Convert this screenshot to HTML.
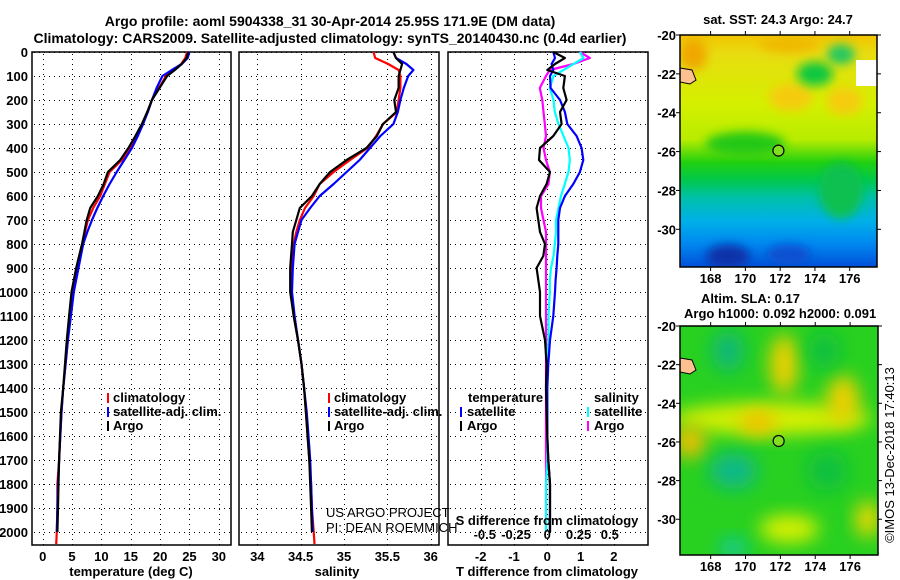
<!DOCTYPE html>
<html><head><meta charset="utf-8">
<style>
html,body{margin:0;padding:0;background:#fff;}
svg{display:block;font-family:"Liberation Sans",sans-serif;}
.b{font-weight:bold;font-size:13px;fill:#000;}
.t{font-weight:bold;font-size:14px;fill:#000;}
</style></head>
<body>
<svg id="fig" width="900" height="580" viewBox="0 0 900 580">
<defs>
<filter id="blur" x="-50%" y="-50%" width="200%" height="200%"><feGaussianBlur stdDeviation="9"/></filter>
<filter id="blur2" x="-50%" y="-50%" width="200%" height="200%"><feGaussianBlur stdDeviation="5"/></filter>
<linearGradient id="sstg" x1="0" y1="0" x2="0" y2="1">
<stop offset="0" stop-color="#f2c400"/>
<stop offset="0.08" stop-color="#e8dc10"/>
<stop offset="0.3" stop-color="#d4f000"/>
<stop offset="0.45" stop-color="#b8ec00"/>
<stop offset="0.55" stop-color="#20d010"/>
<stop offset="0.63" stop-color="#00c850"/>
<stop offset="0.7" stop-color="#00c0a8"/>
<stop offset="0.8" stop-color="#00b0e8"/>
<stop offset="0.9" stop-color="#0088f0"/>
<stop offset="1" stop-color="#0050d8"/>
</linearGradient>
<clipPath id="clipTop"><rect x="680" y="35" width="197" height="232"/></clipPath>
<clipPath id="clipBot"><rect x="680" y="326" width="198" height="229"/></clipPath>
</defs>
<text class="t" x="330" y="26" text-anchor="middle">Argo profile: aoml 5904338_31 30-Apr-2014 25.95S 171.9E (DM data)</text>
<text class="t" x="330" y="43" text-anchor="middle">Climatology: CARS2009. Satellite-adjusted climatology: synTS_20140430.nc (0.4d earlier)</text>
<g id="plots"></g>
<g id="maps"></g>
</svg>
<script>
// ---- shared depth axis data ----
const depths = [0,25,50,75,100,150,200,250,300,350,400,450,500,550,600,650,700,750,800,900,1000,1100,1200,1300,1400,1500,1600,1700,1800,1900,2000,2050];
const depthTicks = [0,100,200,300,400,500,600,700,800,900,1000,1100,1200,1300,1400,1500,1600,1700,1800,1900,2000];
// temperature (deg C)
const tempClim = [24.6,24.3,23.6,22.4,21.0,19.8,18.6,17.9,17.0,15.9,14.8,13.5,11.4,10.6,9.8,8.6,7.7,7.2,6.8,5.9,5.1,4.6,4.3,3.9,3.5,3.2,3.0,2.8,2.5,2.5,2.4,2.3];
const tempSat = [25.0,24.7,23.7,22.0,20.4,19.4,18.6,17.9,17.1,16.2,15.2,13.9,12.6,11.4,10.3,9.3,8.4,7.6,6.9,6.1,5.3,4.8,4.3,3.9,3.5,3.2,3.0,2.8,2.6,2.5,2.4,null];
const tempArgo = [24.8,24.5,23.7,22.5,21.2,19.9,18.6,17.8,16.9,15.8,14.6,13.2,11.1,10.4,9.4,8.1,7.5,7.1,6.7,5.7,4.9,4.5,4.1,3.8,3.5,3.1,2.95,2.8,2.7,2.6,2.5,null];
const tempTicks = [0,5,10,15,20,25,30];
// salinity
const salClim = [35.34,35.36,35.51,35.63,35.65,35.65,35.63,35.61,35.45,35.37,35.27,35.07,34.88,34.72,34.65,34.55,34.49,34.45,34.42,34.40,34.39,34.42,34.47,34.51,34.54,34.56,34.58,34.60,34.62,34.63,34.65,34.66];
const salSat = [35.57,35.60,35.72,35.80,35.74,35.69,35.65,35.62,35.57,35.42,35.30,35.18,35.03,34.88,34.72,34.61,34.51,34.47,34.43,34.41,34.40,34.43,34.47,34.51,34.54,34.57,34.59,34.61,34.62,34.63,34.64,null];
const salArgo = [35.57,35.60,35.67,35.65,35.63,35.63,35.58,35.60,35.45,35.38,35.26,35.03,34.84,34.72,34.63,34.49,34.45,34.41,34.40,34.38,34.38,34.42,34.47,34.51,34.54,34.56,34.58,34.60,34.61,34.62,34.63,null];
const salTicks = [34,34.5,35,35.5,36];
// differences from climatology
const diffDepths = [0,25,50,75,100,150,200,250,300,350,400,450,500,550,600,650,700,750,800,850,900,950,1000,1100,1200,1300,1400,1500,1600,1700,1800,1900,2000];
const tDiffArgo = [0.18,0.53,0.23,0.0,0.53,0.48,0.58,0.38,0.43,0.18,-0.22,-0.25,0.08,-0.02,-0.22,-0.32,-0.27,-0.22,-0.07,-0.12,-0.32,-0.27,-0.22,-0.22,-0.07,-0.02,-0.04,-0.02,0,0.03,0.08,0.08,0.08];
const tDiffSat = [0.18,0.23,0.13,0.18,0.08,0.1,0.38,0.53,0.6,0.88,1.03,1.08,0.98,0.78,0.53,0.38,0.33,0.33,0.33,0.3,0.28,0.25,0.23,0.18,0.08,0.03,0,0,0,0.03,0.08,0.08,0.08];
const sDiffSat = [0.26,0.29,0.21,0.13,0.05,0.02,0.05,0.06,0.09,0.13,0.17,0.18,0.17,0.14,0.11,0.09,0.07,0.07,0.06,0.05,0.03,0.02,0.02,0.01,0.01,0,0,0,0,0,-0.01,-0.01,-0.01];
const sDiffArgo = [0.26,0.34,0.21,0.02,-0.01,-0.06,-0.04,-0.03,-0.02,-0.01,-0.03,-0.01,0.02,0.01,-0.05,-0.05,-0.03,-0.01,-0.01,-0.01,-0.01,-0.01,-0.01,-0.01,-0.01,-0.01,-0.01,-0.01,-0.01,-0.01,-0.01,-0.01,-0.01];
const tDiffTicks = [-2,-1,0,1,2];
const sDiffTicks = [-0.5,-0.25,0,0.25,0.5];
const sDiffTickLabels = ["-0.5","-0.25","0","0.25","0.5"];
// maps
const lonTicks = [168,170,172,174,176];
const latTicks = [-20,-22,-24,-26,-28,-30];
const floatLon = 171.9, floatLat = -25.95;

const NS = "http://www.w3.org/2000/svg";
function mk(tag, attrs, parent){const e=document.createElementNS(NS,tag);for(const k in attrs)e.setAttribute(k,attrs[k]);parent.appendChild(e);return e;}
const plots = document.getElementById('plots');
const maps = document.getElementById('maps');

const yTop=52, yBot=545;
const yD = d => yTop + 0.24*d;
const snap = v => Math.round(v) + 0.5;

function panel(name, x0, x1, xScale, xTicks){
  const g = mk('g',{},plots);
  
  
  depthTicks.forEach(d=>{
    const y = snap(yD(d));
    const l = mk('line',{x1:x0+2,x2:x1,y1:y,y2:y,stroke:'#000','stroke-width':1,'stroke-dasharray':'1,4','shape-rendering':'crispEdges'},g);
    
    
  });
  xTicks.forEach(v=>{
    const x = snap(xScale(v));
    const l = mk('line',{x1:x,x2:x,y1:yTop+2,y2:yBot,stroke:'#000','stroke-width':1,'stroke-dasharray':'1,4','shape-rendering':'crispEdges'},g);
    
    
  });
  const r = mk('rect',{x:x0,y:yTop,width:x1-x0,height:yBot-yTop,fill:'none',stroke:'#000','stroke-width':1.5},g);
  
  
  return g;
}
function series(g, name, ds, vals, xScale, color){
  let pts=[];
  vals.forEach((v,i)=>{ if(v!==null) pts.push(xScale(v).toFixed(1)+','+yD(ds[i]).toFixed(1)); });
  const p = mk('polyline',{points:pts.join(' '),fill:'none',stroke:color,'stroke-width':2.2,'stroke-linejoin':'round'},g);
  
  
}
function txt(g, s, x, y, cls, anchor, name, extra){
  const t = mk('text',Object.assign({x:x,y:y,'class':cls,'text-anchor':anchor||'start'},extra||{}),g);
  t.textContent = s;
  
  
  return t;
}
function legendMark(g, x, y, color, name){
  const l = mk('line',{x1:x,x2:x,y1:y-10,y2:y,stroke:color,'stroke-width':2},g);
  
  
}

depthTicks.forEach(d=>{ txt(plots, String(d), 28, yD(d)+5, 'b', 'end', 'y-tick-label'); });

// ---- Temperature panel ----
const xT = v => 42.7 + 5.87*v;
const g1 = panel('temperature-panel', 32, 231, xT, tempTicks);
series(g1,'temp-climatology-line',depths,tempClim,xT,'#ff0000');
series(g1,'temp-satellite-line',depths,tempSat,xT,'#0000ff');
series(g1,'temp-argo-line',depths,tempArgo,xT,'#000000');
tempTicks.forEach(v=> txt(g1,String(v),xT(v),561,'b','middle','x-tick-label'));
txt(g1,'temperature (deg C)',131,576,'b','middle','x-axis-title-temperature');
legendMark(g1,108,403,'#ff0000','legend-mark-climatology');
txt(g1,'climatology',113,402,'b','start','legend-climatology');
legendMark(g1,108,417,'#0000ff','legend-mark-satellite');
txt(g1,'satellite-adj. clim.',113,416,'b','start','legend-satellite');
legendMark(g1,108,431,'#000000','legend-mark-argo');
txt(g1,'Argo',113,430,'b','start','legend-argo');

// ---- Salinity panel ----
const xS = v => 257.3 + 86.7*(v-34);
const g2 = panel('salinity-panel', 239, 439, xS, salTicks);
series(g2,'sal-climatology-line',depths,salClim,xS,'#ff0000');
series(g2,'sal-satellite-line',depths,salSat,xS,'#0000ff');
series(g2,'sal-argo-line',depths,salArgo,xS,'#000000');
salTicks.forEach(v=> txt(g2,String(v),xS(v),561,'b','middle','x-tick-label'));
txt(g2,'salinity',337,576,'b','middle','x-axis-title-salinity');
legendMark(g2,329,403,'#ff0000','legend-mark-climatology');
txt(g2,'climatology',334,402,'b','start','legend-climatology');
legendMark(g2,329,417,'#0000ff','legend-mark-satellite');
txt(g2,'satellite-adj. clim.',334,416,'b','start','legend-satellite');
legendMark(g2,329,431,'#000000','legend-mark-argo');
txt(g2,'Argo',334,430,'b','start','legend-argo');
txt(g2,'US ARGO PROJECT',326,517,'','start','credit-project',{'font-size':'13','fill':'#000'});
txt(g2,'PI: DEAN ROEMMICH',326,532,'','start','credit-pi',{'font-size':'13','fill':'#000'});

// ---- Difference panel ----
const xTD = v => 547.3 + 33.3*v;
const xSD = v => 547.3 + 125*v;
const g3 = panel('difference-panel', 448, 648, xTD, tDiffTicks);
series(g3,'sdiff-argo-line',diffDepths,sDiffArgo,xSD,'#ff00ff');
series(g3,'sdiff-satellite-line',diffDepths,sDiffSat,xSD,'#00ffff');
series(g3,'tdiff-satellite-line',diffDepths,tDiffSat,xTD,'#0000ff');
series(g3,'tdiff-argo-line',diffDepths,tDiffArgo,xTD,'#000000');
tDiffTicks.forEach(v=> txt(g3,String(v),xTD(v),561,'b','middle','t-diff-tick-label'));
sDiffTicks.forEach((v,i)=> txt(g3,sDiffTickLabels[i],xSD(v),539,'b','middle','s-diff-tick-label'));
txt(g3,'S difference from climatology',547,525,'b','middle','s-diff-axis-title');
txt(g3,'T difference from climatology',547,576,'b','middle','t-diff-axis-title');
txt(g3,'temperature',468,402,'b','start','legend-temperature-header');
legendMark(g3,461,417,'#0000ff','legend-mark-tsat');
txt(g3,'satellite',467,416,'b','start','legend-t-satellite');
legendMark(g3,461,431,'#000000','legend-mark-targo');
txt(g3,'Argo',467,430,'b','start','legend-t-argo');
txt(g3,'salinity',594,402,'b','start','legend-salinity-header');
legendMark(g3,588,417,'#00ffff','legend-mark-ssat');
txt(g3,'satellite',594,416,'b','start','legend-s-satellite');
legendMark(g3,588,431,'#ff00ff','legend-mark-sargo');
txt(g3,'Argo',594,430,'b','start','legend-s-argo');

// ---- Maps ----
function mapAxes(name, x0, x1, y0, y1, lonL, lonR, latT, latB){
  const lx = v => x0 + (v-lonL)/(lonR-lonL)*(x1-x0);
  const ly = v => y0 + (latT-v)/(latT-latB)*(y1-y0);
  return {lx, ly};
}
const mT = mapAxes('sst',680,877,35,267,166.24,177.57,-20,-31.94);
const gT = mk('g',{'clip-path':'url(#clipTop)'},maps);


mk('rect',{x:680,y:35,width:197,height:232,fill:'url(#sstg)'},gT);
const sstBlobs = [
 [mT.lx(172.6),mT.ly(-23.2),22,14,'#f5cc10'],[mT.lx(175.7),mT.ly(-23.4),18,14,'#f5cc10'],
 [mT.lx(174),mT.ly(-22),18,12,'#10c840'],[mT.lx(175.5),mT.ly(-21),14,10,'#20c860'],
 [mT.lx(172.5),mT.ly(-20.5),30,8,'#f0b800'],[mT.lx(167),mT.ly(-21),14,16,'#f0a800'],
 [mT.lx(169),mT.ly(-31.4),22,12,'#0830a8'],[mT.lx(172.5),mT.ly(-31.3),22,10,'#1050d0'],
 [mT.lx(175.5),mT.ly(-28),22,28,'#10c050'],[mT.lx(170),mT.ly(-25.6),40,12,'#20c818']];
sstBlobs.forEach(b=>{ mk('ellipse',{cx:b[0],cy:b[1],rx:b[2],ry:b[3],fill:b[4],filter:'url(#blur2)'},gT); });
mk('rect',{x:856,y:60,width:22,height:26,fill:'#fff'},gT);
mk('path',{d:'M680,68 L692,70 L696,80 L690,84 L680,82 Z',fill:'#ffc090',stroke:'#000','stroke-width':1},gT);
mk('rect',{x:680,y:35,width:197,height:232,fill:'none',stroke:'#000','stroke-width':1.5},maps);

const mB = mapAxes('sla',680,878,326,555,166.24,177.6,-20,-31.85);
const gB = mk('g',{'clip-path':'url(#clipBot)'},maps);


mk('rect',{x:680,y:326,width:198,height:229,fill:'#28d020'},gB);
const slaBlobs = [
 [mB.lx(171.5),mB.ly(-24.8),100,16,'#d8f000'],[mB.lx(172.2),mB.ly(-22),14,30,'#f0d000'],
 [mB.lx(170.7),mB.ly(-25),18,12,'#f0c000'],[mB.lx(166.8),mB.ly(-26),16,16,'#f0c000'],
 [mB.lx(175.6),mB.ly(-23.8),16,24,'#f0d000'],[mB.lx(172.5),mB.ly(-30.5),30,14,'#d8f000'],
 [mB.lx(177),mB.ly(-30),12,18,'#f0d800'],[mB.lx(169),mB.ly(-21.3),16,20,'#10b878'],
 [mB.lx(169.3),mB.ly(-27.5),24,18,'#10b888'],[mB.lx(169.3),mB.ly(-31.5),14,10,'#10c8a0'],
 [mB.lx(174.7),mB.ly(-27.5),20,20,'#10c040'],[mB.lx(174.5),mB.ly(-21.3),16,18,'#10c040']];
slaBlobs.forEach(b=>{ mk('ellipse',{cx:b[0],cy:b[1],rx:b[2],ry:b[3],fill:b[4],filter:'url(#blur)'},gB); });
mk('path',{d:'M680,358 L692,360 L696,370 L690,374 L680,372 Z',fill:'#ffc090',stroke:'#000','stroke-width':1},gB);
mk('rect',{x:680,y:326,width:198,height:229,fill:'none',stroke:'#000','stroke-width':1.5},maps);

[[mT,267,35,877,'sst'],[mB,555,326,878,'sla']].forEach(([m,yb,yt,xr,nm])=>{
  lonTicks.forEach(v=>{
    mk('line',{x1:m.lx(v),x2:m.lx(v),y1:yt-4,y2:yt,stroke:'#000'},maps);
    mk('line',{x1:m.lx(v),x2:m.lx(v),y1:yb,y2:yb+4,stroke:'#000'},maps);
    txt(maps,String(v),m.lx(v),yb+16,'b','middle',nm+'-lon-tick-label');
  });
  latTicks.forEach(v=>{
    mk('line',{x1:xr,x2:xr+4,y1:m.ly(v),y2:m.ly(v),stroke:'#000'},maps);
    mk('line',{x1:676,x2:680,y1:m.ly(v),y2:m.ly(v),stroke:'#000'},maps);
    txt(maps,String(v),676,m.ly(v)+5,'b','end',nm+'-lat-tick-label');
  });
  const c = mk('circle',{cx:m.lx(floatLon),cy:m.ly(floatLat),r:5.5,fill:'#80e020',stroke:'#000','stroke-width':1.2},maps);
  
  
});
txt(maps,'sat. SST: 24.3 Argo: 24.7',778,24,'b','middle','sst-map-title');
txt(maps,'Altim. SLA: 0.17',701,303,'b','start','sla-map-title');
txt(maps,'Argo h1000: 0.092 h2000: 0.091',684,318,'b','start','sla-map-subtitle');
txt(maps,'©IMOS 13-Dec-2018 17:40:13',894,455,'','middle','timestamp-credit',{'font-size':'13','fill':'#000',transform:'rotate(-90 894 455)'});
</script>
</body></html>
